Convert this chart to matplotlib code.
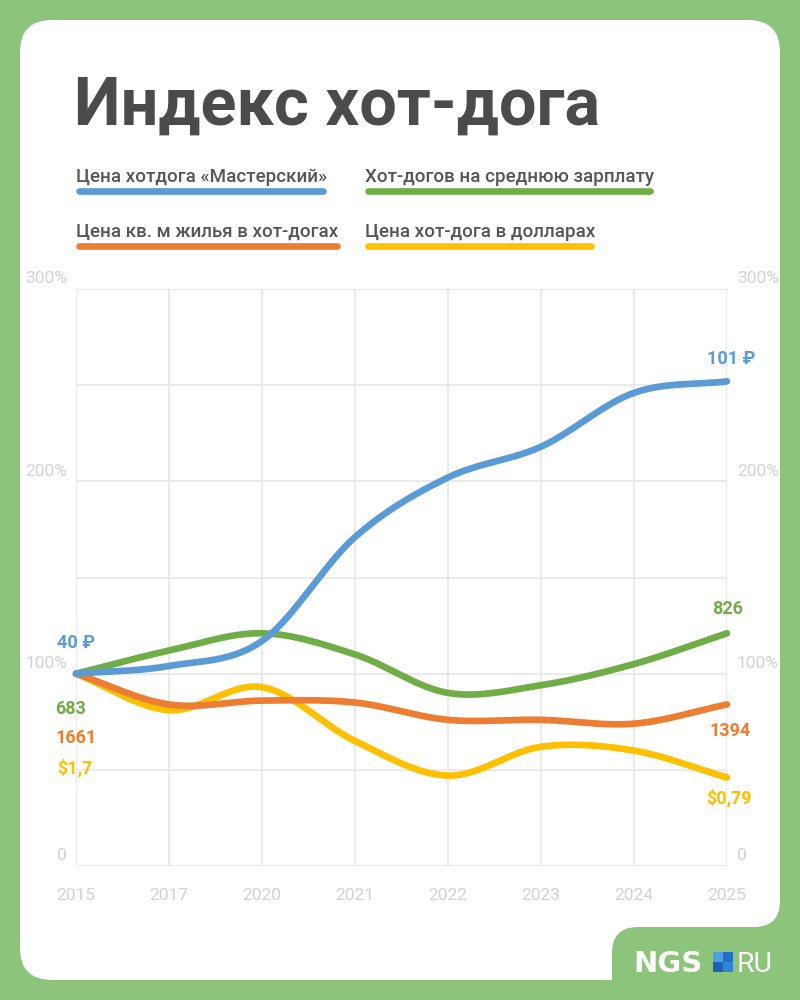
import numpy as np
import matplotlib
matplotlib.use('Agg')
import matplotlib.pyplot as plt
from matplotlib.patches import FancyBboxPatch, Rectangle

# ---------------- data ----------------
years = ['2015', '2017', '2020', '2021', '2022', '2023', '2024', '2025']
# index, % of 2015 level
hotdog_price = [100, 104, 117, 171, 202, 218, 246, 252]
hotdogs_per_salary = [100, 112, 121, 110, 90, 94, 105, 121]
sqm_in_hotdogs = [100, 84, 86, 85, 76, 76, 74, 84]
hotdog_usd = [100, 81, 93, 65, 47, 62, 60, 46]

series_names = ['Цена хотдога «Мастерский»', 'Хот-догов на среднюю зарплату',
                'Цена кв. м жилья в хот-догах', 'Цена хот-дога в долларах']
start_labels = ['40 ₽', '683', '1661', '$1,7']
end_labels = ['101 ₽', '826', '1394', '$0,79']
ytick_vals = [0, 100, 200, 300]
ytick_labels = ['0', '100%', '200%', '300%']

BLUE = '#5b9bd5'
GREEN = '#70ad47'
ORANGE = '#ed7d31'
YELLOW = '#ffc000'
BG = '#8cc47b'
TXT = '#4b4b4b'
TICK = '#d2d2d2'
GRID = '#e6e6e6'

FONT = ['Roboto', 'DejaVu Sans']
plt.rcParams['font.family'] = FONT


def smooth(xs, ys, n=40):
    # catmull-rom, like excel's smoothed line
    p = np.column_stack([xs, ys]).astype(float)
    p = np.vstack([2 * p[0] - p[1], p, 2 * p[-1] - p[-2]])
    t = np.linspace(0, 1, n)[:, None]
    out = []
    for i in range(1, len(p) - 2):
        p0, p1, p2, p3 = p[i - 1], p[i], p[i + 1], p[i + 2]
        seg = 0.5 * (2 * p1 + (-p0 + p2) * t + (2 * p0 - 5 * p1 + 4 * p2 - p3) * t ** 2
                     + (-p0 + 3 * p1 - 3 * p2 + p3) * t ** 3)
        out.append(seg if i == 1 else seg[1:])
    out = np.vstack(out)
    return out[:, 0], out[:, 1]


fig = plt.figure(figsize=(8, 10), dpi=100)
fig.patch.set_facecolor(BG)

# background layer in pixel coords
bg = fig.add_axes([0, 0, 1, 1])
bg.set_xlim(0, 800)
bg.set_ylim(1000, 0)
bg.axis('off')
bg.add_patch(FancyBboxPatch((20, 20), 760, 960, boxstyle='round,pad=0,rounding_size=32',
                            fc='white', ec='none'))
bg.add_patch(FancyBboxPatch((612, 927), 260, 120, boxstyle='round,pad=0,rounding_size=26',
                            fc=BG, ec='none'))
bg.add_patch(Rectangle((752, 900), 30, 28, fc=BG, ec='none'))
bg.add_patch(FancyBboxPatch((700, 860), 80, 67, boxstyle='round,pad=0,rounding_size=26',
                            fc='white', ec='none'))

bg.text(74, 125, 'Индекс хот-дога', fontsize=48, fontweight='bold', color=TXT,
        ha='left', va='baseline')

leg = [(76, 182, 326, BLUE), (365, 182, 653, GREEN), (76, 237, 340, ORANGE), (365, 237, 594, YELLOW)]
for (x0, yb, x1, c), name in zip(leg, series_names):
    bg.text(x0, yb, name, fontsize=13.5, fontweight='medium', color='#555555',
            ha='left', va='baseline')
    bg.plot([x0 + 3, x1 - 3], [yb + 9, yb + 9], color=c, lw=4.8, solid_capstyle='round')

# logo
bg.text(633, 972, 'NGS', fontsize=21, fontweight='heavy', color='white',
        family=['DejaVu Sans'], ha='left', va='baseline')
sq = [(713, 952, '#4d9fe3'), (723, 952, '#1f6fc8'), (713, 962, '#1c62b8'), (723, 962, '#2f86d6')]
for x, y, c in sq:
    bg.add_patch(Rectangle((x, y), 10, 10, fc=c, ec='none'))
bg.text(737, 972, 'RU', fontsize=20.5, color='white', ha='left', va='baseline')

# ---------------- chart ----------------
ax = fig.add_axes([76 / 800, 1 - 866 / 1000, 651 / 800, 577 / 1000])
ax.patch.set_alpha(0)
ax.set_xlim(0, len(years) - 1)
ax.set_ylim(0, 300)
for s in ax.spines.values():
    s.set_visible(False)
ax.set_xticks(range(len(years)))
ax.set_yticks(np.arange(0, 301, 50))
ax.grid(True, color=GRID, lw=1.2)
ax.tick_params(length=0, labelleft=False)
ax.set_xticklabels(years, fontsize=12.5, color=TICK)
ax.tick_params(axis='x', pad=16)

for v, lab in zip(ytick_vals, ytick_labels):
    ax.annotate(lab, xy=(0, v), xycoords=('axes fraction', 'data'), xytext=(-9, 10),
                textcoords='offset pixels', ha='right', va='center', fontsize=12.5, color=TICK)
    ax.annotate(lab, xy=(1, v), xycoords=('axes fraction', 'data'), xytext=(10, 10),
                textcoords='offset pixels', ha='left', va='center', fontsize=12.5, color=TICK)

xs = np.arange(len(years))
data = [hotdog_price, hotdogs_per_salary, sqm_in_hotdogs, hotdog_usd]
colors = [BLUE, GREEN, ORANGE, YELLOW]
order = [3, 2, 1, 0]
for i in order:
    sx, sy = smooth(xs, data[i])
    ax.plot(sx, sy, color=colors[i], lw=4.8, solid_capstyle='round', zorder=3 + (3 - i) * 0.1, clip_on=False)

start_off = [(0, 31), (-5, -35), (0, -64), (-1, -94)]
end_off = [(4, 22), (1, 24), (3, -27), (2, -21)]
for i in range(4):
    ax.annotate(start_labels[i], xy=(0, data[i][0]), xytext=start_off[i], textcoords='offset pixels',
                ha='center', va='center', fontsize=13, fontweight='bold', color=colors[i])
    ax.annotate(end_labels[i], xy=(xs[-1], data[i][-1]), xytext=end_off[i], textcoords='offset pixels',
                ha='center', va='center', fontsize=13, fontweight='bold', color=colors[i])

fig.savefig('out.png', dpi=100, facecolor=BG)
